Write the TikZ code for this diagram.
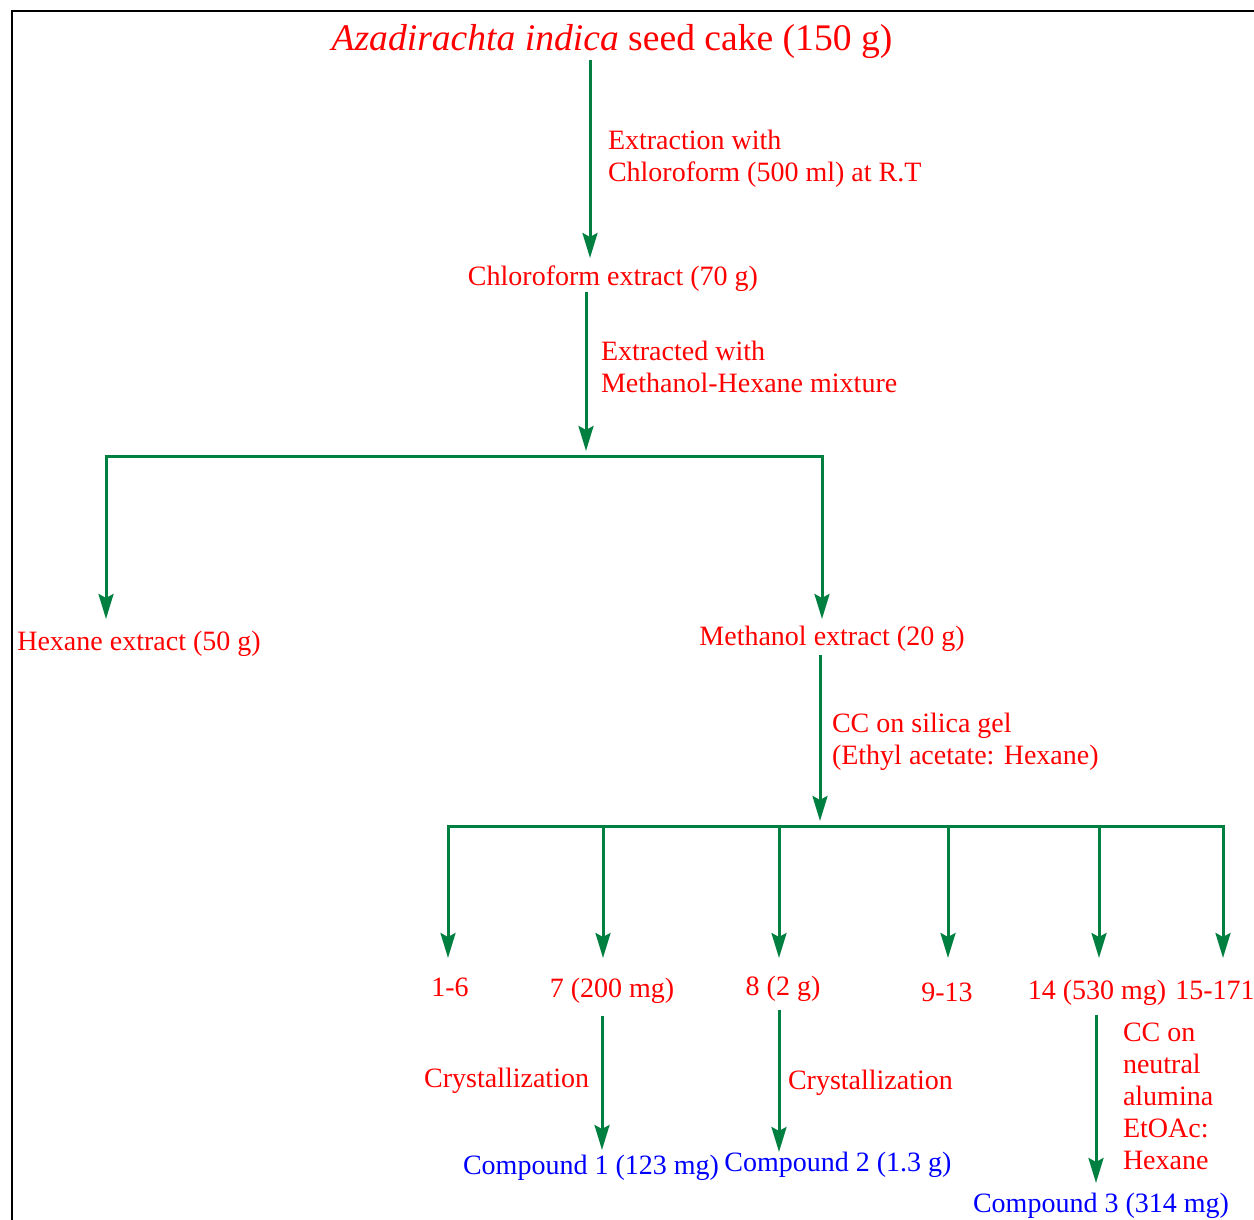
\documentclass[tikz,border=0pt]{standalone}
\usepackage{fontspec}
\setmainfont{Liberation Serif}
\usetikzlibrary{arrows.meta,calc}
\definecolor{rd}{RGB}{255,0,0}
\definecolor{gr}{RGB}{0,128,64}
\definecolor{bl}{RGB}{0,0,255}
\begin{document}
\begin{tikzpicture}[x=1pt,y=-1pt,
  txt/.style={inner sep=0pt, outer sep=0pt, font=\fontsize{28}{32}\selectfont, text height=19pt, text depth=6pt},
  lbl/.style={txt, text=rd},
  cmp/.style={txt, text=bl},
  note/.style={inner sep=0pt, outer sep=0pt, font=\fontsize{28}{32}\selectfont, text=rd, align=left, anchor=west},
  tip/.tip={Stealth[length=25pt,width=15pt,inset=4pt]},
  arr/.style={draw=gr, line width=3pt, -tip},
  arrtwo/.style={draw=gr, line width=3pt, tip-tip}]
\useasboundingbox (0,0) rectangle (1254,1220);
\draw[line width=2pt] (12,1220) -- (12,11) -- (1254,11);

% nodes
\node[inner sep=0pt, outer sep=0pt, anchor=base, text=rd, font=\fontsize{37.6}{40}\selectfont] (title) at (612,51) {\textit{Azadirachta indica} seed cake (150 g)};
\node[lbl] (chl) at (613,278.5) {Chloroform extract (70 g)};
\node[lbl] (hex) at (139,643.5) {Hexane extract (50 g)};
\node[lbl] (meth) at (832,639) {Methanol extract (20 g)};
\node[lbl] (f1) at (450,989.5) {1-6};
\node[lbl] (f2) at (612,990.5) {7 (200 mg)};
\node[lbl] (f3) at (783,988.5) {8 (2 g)};
\node[lbl] (f4) at (947,994.5) {9-13};
\node[lbl] (f5) at (1097,992.5) {14 (530 mg)};
\node[lbl] (f6) at (1215,992.5) {15-171};
\node[cmp] (k1) at (591,1167.5) {Compound 1 (123 mg)};
\node[cmp] (k2) at (838,1164.5) {Compound 2 (1.3 g)};
\node[cmp] (k3) at (1101,1205.5) {Compound 3 (314 mg)};

% labels
\node[note] (n1) at (608,159) {Extraction with\\Chloroform (500 ml) at R.T};
\node[note] (n2) at (601,367) {Extracted with\\Methanol-Hexane mixture};
\node[note] (n3) at (832,742) {CC on silica gel\\(Ethyl acetate: Hexane)};
\node[note] (n4) at (1123,1096) {CC on\\neutral\\alumina\\EtOAc:\\Hexane};
\node[lbl, anchor=east] (cr1) at (589,1080.5) {Crystallization};
\node[lbl, anchor=west] (cr2) at (788,1082.5) {Crystallization};

% coordinates
\coordinate (x1) at (590,0);
\coordinate (j1) at (586,456);
\coordinate (b1) at (106,456);
\coordinate (b2) at (822,456);
\coordinate (j2) at (820,826);
\coordinate (c1) at (448,826);
\coordinate (c2) at (603,826);
\coordinate (c3) at (779,826);
\coordinate (c4) at (948,826);
\coordinate (c5) at (1099,826);
\coordinate (c6) at (1223,826);
\coordinate (x7) at (602,0);
\coordinate (x8) at (779,0);
\coordinate (x14) at (1096,0);

% connectors
\draw[arr, shorten <=1pt, shorten >=8pt] (title.south -| x1) -- (chl.north -| x1);
\draw[arr, shorten <=1pt, shorten >=5pt] (chl.south -| j1) -- (j1);
\draw[arrtwo, shorten <=12pt, shorten >=7.5pt] (hex.north -| b1) -- (b1) -- (b2) -- (meth.north -| b2);
\draw[arr, shorten <=3.5pt, shorten >=5pt] (meth.south -| j2) -- (j2);
\draw[arrtwo, shorten <=19pt, shorten >=22pt] (f1.north -| c1) -- (c1) -- (c6) -- (f6.north -| c6);
\draw[arr, shorten >=20pt] (c2) -- (f2.north -| c2);
\draw[arr, shorten >=18pt] (c3) -- (f3.north -| c3);
\draw[arr, shorten >=24pt] (c4) -- (f4.north -| c4);
\draw[arr, shorten >=22pt] (c5) -- (f5.north -| c5);
\draw[arr, shorten <=13pt, shorten >=5pt] (f2.south -| x7) -- (k1.north -| x7);
\draw[arr, shorten <=9pt, shorten >=0pt] (f3.south -| x8) -- (k2.north -| x8);
\draw[arr, shorten <=10pt, shorten >=10pt] (f5.south -| x14) -- (k3.north -| x14);
\end{tikzpicture}
\end{document}
